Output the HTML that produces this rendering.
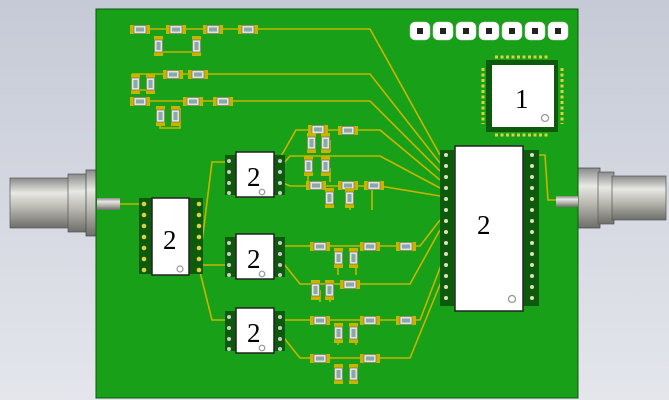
<!DOCTYPE html>
<html><head><style>
html,body{margin:0;padding:0;width:669px;height:400px;overflow:hidden;background:#d4d7e0}
svg text{font-family:"Liberation Serif",serif;font-size:27px;fill:#000}
</style></head><body>
<svg width="669" height="400" xmlns="http://www.w3.org/2000/svg">
<defs>
<linearGradient id="bg" x1="0" y1="0" x2="0" y2="1"><stop offset="0" stop-color="#c6cad6"/><stop offset="1" stop-color="#e4e6ec"/></linearGradient>
<linearGradient id="cyl" x1="0" y1="0" x2="0" y2="1"><stop offset="0" stop-color="#8a8a8a"/><stop offset="0.3" stop-color="#e8e8e4"/><stop offset="0.6" stop-color="#b8b8b0"/><stop offset="1" stop-color="#6e6e6a"/></linearGradient>
<g id="res"><rect x="-2" y="-1" width="20" height="9" fill="#c8b400"/><rect x="2" y="-0.5" width="12" height="8" fill="#dfe4e0" stroke="#666" stroke-width="0.6"/><rect x="4" y="1.5" width="8" height="4" fill="#8aa8a8"/></g>
<g id="vres"><rect x="-1" y="-2" width="9" height="20" fill="#c8b400"/><rect x="-0.5" y="2" width="8" height="12" fill="#dfe4e0" stroke="#666" stroke-width="0.6"/><rect x="1.5" y="4" width="4" height="8" fill="#8aa8a8"/></g>
</defs>
<rect width="669" height="400" fill="url(#bg)"/>
<rect x="10" y="178" width="60" height="50" fill="url(#cyl)" stroke="#555" stroke-width="0.7"/>
<rect x="68" y="174" width="20" height="58" fill="url(#cyl)" stroke="#555" stroke-width="0.7"/>
<rect x="86" y="170" width="11" height="66" fill="url(#cyl)" stroke="#444" stroke-width="0.7"/>
<rect x="578" y="168" width="22" height="60" fill="url(#cyl)" stroke="#444" stroke-width="0.7"/>
<rect x="598" y="172" width="16" height="52" fill="url(#cyl)" stroke="#555" stroke-width="0.7"/>
<rect x="612" y="176" width="54" height="44" fill="url(#cyl)" stroke="#555" stroke-width="0.7"/>
<rect x="96" y="9" width="482" height="389" fill="#18a018" stroke="#0d5a0d" stroke-width="1"/>
<rect x="97" y="198" width="23" height="12" fill="url(#cyl)"/>
<rect x="556" y="196" width="22" height="11" fill="url(#cyl)"/>
<g fill="none" stroke="#c8b400" stroke-width="1.6">
<path d="M132 29 H262 H370 L440 155"/>
<path d="M158 38 V52 H196 V38"/>
<path d="M132 74 H370 L440 163"/>
<path d="M132 101 H370 L440 171"/>
<path d="M135 81 V90 H150 V81"/>
<path d="M160 108 V128 H180 V108"/>
<path d="M120 204 H145"/>
<path d="M200 258 L212 162 H232"/>
<path d="M200 265 H232 V246"/>
<path d="M200 272 L212 320 H232"/>
<path d="M276 165 L296 130 H380 L440 180"/>
<path d="M276 172 L290 156 H380 L440 188"/>
<path d="M276 180 L290 186 H380 L440 196"/>
<path d="M276 246 H420 L440 220"/>
<path d="M276 254 L300 284 H410 L440 230"/>
<path d="M276 320 H420 L445 255"/>
<path d="M276 328 L300 358 H410 L448 265"/>
<path d="M538 155 H545 L548 200 H556"/>
<path d="M308 140 V152 M330 140 V152 M308 168 V182 M330 168 V182"/>
<path d="M350 190 V210 M372 190 V210 M338 256 V275 M356 256 V275 M320 290 V302 M330 290 V302 M338 326 V345 M356 326 V345 M335 365 V380 M350 365 V380"/>
</g>
<g>
<use href="#res" x="132" y="26"/><use href="#res" x="168" y="26"/><use href="#res" x="205" y="26"/><use href="#res" x="240" y="26"/>
<use href="#vres" x="155" y="38"/><use href="#vres" x="193" y="38"/>
<use href="#res" x="165" y="71"/><use href="#res" x="190" y="71"/>
<use href="#vres" x="132" y="76"/><use href="#vres" x="147" y="76"/>
<use href="#res" x="132" y="98"/><use href="#res" x="185" y="98"/><use href="#res" x="215" y="98"/>
<use href="#vres" x="157" y="108"/><use href="#vres" x="172" y="108"/>
<use href="#res" x="310" y="126"/><use href="#vres" x="308" y="135"/><use href="#vres" x="322" y="135"/><use href="#res" x="340" y="127"/>
<use href="#vres" x="305" y="158"/><use href="#vres" x="322" y="158"/>
<use href="#res" x="308" y="182"/><use href="#res" x="340" y="182"/><use href="#vres" x="326" y="190"/><use href="#vres" x="346" y="190"/><use href="#res" x="366" y="182"/>
<use href="#res" x="312" y="243"/><use href="#res" x="362" y="243"/><use href="#res" x="398" y="243"/>
<use href="#vres" x="335" y="250"/><use href="#vres" x="350" y="250"/>
<use href="#vres" x="312" y="282"/><use href="#vres" x="326" y="282"/><use href="#res" x="342" y="281"/>
<use href="#res" x="312" y="317"/><use href="#res" x="362" y="317"/><use href="#res" x="398" y="317"/>
<use href="#vres" x="335" y="325"/><use href="#vres" x="350" y="325"/>
<use href="#res" x="312" y="355"/><use href="#res" x="362" y="355"/>
<use href="#vres" x="335" y="366"/><use href="#vres" x="350" y="366"/>
</g>
<g fill="#fff" stroke="#ccc" stroke-width="0.5">
<rect x="410" y="22" width="20" height="18" rx="5"/><rect x="433" y="22" width="20" height="18" rx="5"/><rect x="456" y="22" width="20" height="18" rx="5"/><rect x="479" y="22" width="20" height="18" rx="5"/><rect x="502" y="22" width="20" height="18" rx="5"/><rect x="525" y="22" width="20" height="18" rx="5"/><rect x="548" y="22" width="20" height="18" rx="5"/>
</g>
<g fill="#222"><rect x="417" y="28" width="6" height="6"/><rect x="440" y="28" width="6" height="6"/><rect x="463" y="28" width="6" height="6"/><rect x="486" y="28" width="6" height="6"/><rect x="509" y="28" width="6" height="6"/><rect x="532" y="28" width="6" height="6"/><rect x="555" y="28" width="6" height="6"/></g>
<rect x="486" y="60" width="72" height="72" fill="#0d5a0d"/>
<g stroke="#e0d040" stroke-width="3" stroke-dasharray="3 2.5" fill="none">
<path d="M495 57 H550"/><path d="M495 135 H550"/><path d="M483 68 V124"/><path d="M562 68 V124"/>
</g>
<rect x="492" y="65" width="62" height="62" fill="#fff"/>
<text x="515" y="108">1</text>
<circle cx="545" cy="118" r="3.5" fill="none" stroke="#999" stroke-width="1.3"/>
<g fill="#0d5a0d"><rect x="440" y="150" width="14" height="156"/><rect x="523" y="150" width="16" height="156"/></g>
<g fill="#e0e0c0">
<circle cx="446" cy="155" r="2"/><circle cx="446" cy="166" r="2"/><circle cx="446" cy="177" r="2"/><circle cx="446" cy="188" r="2"/><circle cx="446" cy="199" r="2"/><circle cx="446" cy="210" r="2"/><circle cx="446" cy="221" r="2"/><circle cx="446" cy="232" r="2"/><circle cx="446" cy="243" r="2"/><circle cx="446" cy="254" r="2"/><circle cx="446" cy="265" r="2"/><circle cx="446" cy="276" r="2"/><circle cx="446" cy="287" r="2"/><circle cx="446" cy="298" r="2"/>
<circle cx="532" cy="155" r="2"/><circle cx="532" cy="166" r="2"/><circle cx="532" cy="177" r="2"/><circle cx="532" cy="188" r="2"/><circle cx="532" cy="199" r="2"/><circle cx="532" cy="210" r="2"/><circle cx="532" cy="221" r="2"/><circle cx="532" cy="232" r="2"/><circle cx="532" cy="243" r="2"/><circle cx="532" cy="254" r="2"/><circle cx="532" cy="265" r="2"/><circle cx="532" cy="276" r="2"/><circle cx="532" cy="287" r="2"/><circle cx="532" cy="298" r="2"/>
</g>
<rect x="455" y="146" width="68" height="165" fill="#fff" stroke="#222" stroke-width="1.5"/>
<text x="477" y="234">2</text>
<circle cx="512" cy="299" r="3.5" fill="none" stroke="#999" stroke-width="1.3"/>
<g fill="#0d5a0d"><rect x="139" y="198" width="14" height="76"/><rect x="189" y="198" width="14" height="76"/></g>
<g fill="#e0d040">
<circle cx="144" cy="204" r="2.3"/><circle cx="144" cy="215" r="2.3"/><circle cx="144" cy="226" r="2.3"/><circle cx="144" cy="237" r="2.3"/><circle cx="144" cy="248" r="2.3"/><circle cx="144" cy="259" r="2.3"/><circle cx="144" cy="270" r="2.3"/>
<circle cx="199" cy="204" r="2.3"/><circle cx="199" cy="215" r="2.3"/><circle cx="199" cy="226" r="2.3"/><circle cx="199" cy="237" r="2.3"/><circle cx="199" cy="248" r="2.3"/><circle cx="199" cy="259" r="2.3"/><circle cx="199" cy="270" r="2.3"/>
</g>
<rect x="152" y="198" width="37" height="77" fill="#fff" stroke="#222" stroke-width="1.5"/>
<text x="163" y="249">2</text>
<circle cx="180" cy="269" r="3" fill="none" stroke="#999" stroke-width="1.2"/>
<g id="sic">
<g fill="#0d5a0d"><rect x="225" y="155" width="12" height="40"/><rect x="273" y="155" width="12" height="40"/></g>
<g fill="#ccc"><circle cx="229" cy="161" r="2"/><circle cx="229" cy="172" r="2"/><circle cx="229" cy="183" r="2"/><circle cx="229" cy="193" r="2"/><circle cx="280" cy="161" r="2"/><circle cx="280" cy="172" r="2"/><circle cx="280" cy="183" r="2"/><circle cx="280" cy="193" r="2"/></g>
<rect x="236" y="152" width="38" height="45" fill="#fff" stroke="#222" stroke-width="1.5"/>
<text x="247" y="186">2</text>
<circle cx="262" cy="192" r="2.8" fill="none" stroke="#999" stroke-width="1.2"/>
</g>
<use href="#sic" x="0" y="82"/>
<use href="#sic" x="0" y="156"/>
</svg>
</body></html>
